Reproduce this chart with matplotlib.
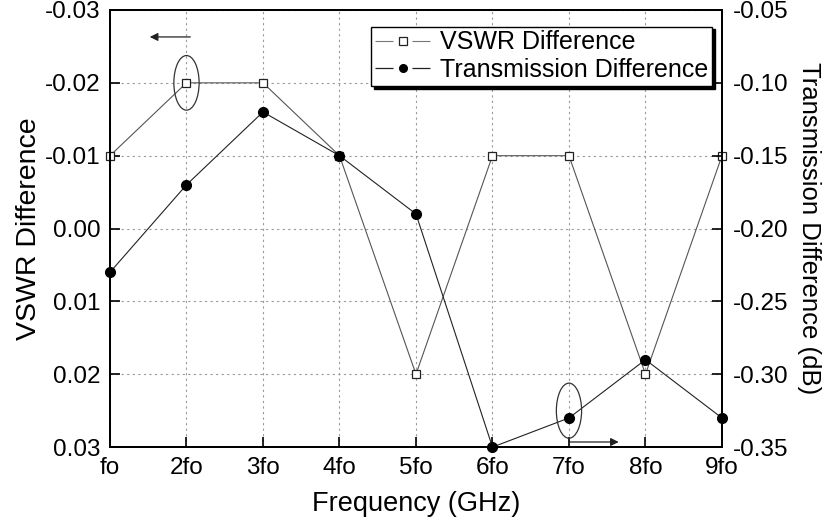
import numpy as np
import matplotlib.pyplot as plt
from matplotlib.patches import Ellipse
from matplotlib.lines import Line2D

plt.rcParams['font.family'] = ['Liberation Sans', 'DejaVu Sans']
plt.rcParams['lines.scale_dashes'] = False

freq_labels = ["fo", "2fo", "3fo", "4fo", "5fo", "6fo", "7fo", "8fo", "9fo"]
x = np.arange(1, 10)
vswr_diff = [-0.01, -0.02, -0.02, -0.01, 0.02, -0.01, -0.01, 0.02, -0.01]
trans_diff = [-0.23, -0.17, -0.12, -0.15, -0.19, -0.35, -0.33, -0.29, -0.33]

fig = plt.figure(figsize=(8.27, 5.26), dpi=100)
ax = fig.add_axes([0.133, 0.150, 0.740, 0.831])
ax2 = ax.twinx()

ax.plot(x, vswr_diff, color='#555555', lw=0.8, marker='s', ms=6,
        mfc='white', mec='#222222', mew=0.9, clip_on=False, zorder=3)
ax2.plot(x, trans_diff, color='#222222', lw=0.8, marker='o', ms=7,
         mfc='black', mec='black', clip_on=False, zorder=3)

ax.set_xlim(1, 9)
ax.set_ylim(0.03, -0.03)
ax.set_yticks([-0.03, -0.02, -0.01, 0.0, 0.01, 0.02, 0.03])
ax.set_yticklabels(["-0.03", "-0.02", "-0.01", "0.00", "0.01", "0.02", "0.03"])
ax.set_xticks(x)
ax.set_xticklabels(freq_labels)
ax2.set_ylim(-0.35, -0.05)
ax2.set_yticks([-0.35, -0.30, -0.25, -0.20, -0.15, -0.10, -0.05])
ax2.set_yticklabels(["-0.35", "-0.30", "-0.25", "-0.20", "-0.15", "-0.10", "-0.05"])

ax.grid(True, color='#999999', ls=(0, (1.6, 2.4)), lw=0.8)
ax.tick_params(direction='in', length=7, width=1.2, labelsize=17.5, pad=7)
ax2.tick_params(direction='in', length=7, width=1.2, labelsize=17.5, pad=8)
for sp in list(ax.spines.values()) + list(ax2.spines.values()):
    sp.set_linewidth(1.4)

ax.set_xlabel("Frequency (GHz)", fontsize=19.5, labelpad=9)
ax.set_ylabel("VSWR Difference", fontsize=20.5, labelpad=2)
ax2.set_ylabel("Transmission Difference (dB)", fontsize=18.5, labelpad=6,
               rotation=270, va='bottom')

# ellipses and arrows pointing to the axes
ax.add_patch(Ellipse((2, -0.02), 0.33, 0.0075, fill=False, ec='#333333', lw=0.9, zorder=4))
ax.annotate("", xy=(1.52, -0.0263), xytext=(2.05, -0.0263),
            arrowprops=dict(arrowstyle='-|>', color='#222222', lw=0.9,
                            mutation_scale=12, shrinkA=0, shrinkB=0))
ax2.add_patch(Ellipse((7, -0.325), 0.33, 0.0378, fill=False, ec='#333333', lw=0.9, zorder=4))
ax2.annotate("", xy=(7.65, -0.3465), xytext=(7.0, -0.3465),
             arrowprops=dict(arrowstyle='-|>', color='#222222', lw=0.9,
                             mutation_scale=12, shrinkA=0, shrinkB=0))

# legend handles: line broken around the marker
gap_ls = (0, (13.0, 13.6, 13.0, 200))
h_vswr = (Line2D([], [], color='#777777', lw=0.8, ls=gap_ls),
          Line2D([], [], ls='none', marker='s', ms=5.5, mfc='white', mec='#222222', mew=0.9))
h_trans = (Line2D([], [], color='#222222', lw=0.9, ls=gap_ls),
           Line2D([], [], ls='none', marker='o', ms=5.5, mfc='black', mec='black'))
leg = ax2.legend([h_vswr, h_trans], ["VSWR Difference", "Transmission Difference"],
                 loc='upper right', bbox_to_anchor=(0.984, 0.962), fontsize=18,
                 frameon=True, fancybox=False, shadow={'color': 'black', 'alpha': 1},
                 edgecolor='black', handlelength=2.2, borderpad=0.15,
                 labelspacing=0.15, handletextpad=0.4, borderaxespad=0)
leg.get_frame().set_linewidth(1.0)

fig.savefig("out.png", dpi=100)
